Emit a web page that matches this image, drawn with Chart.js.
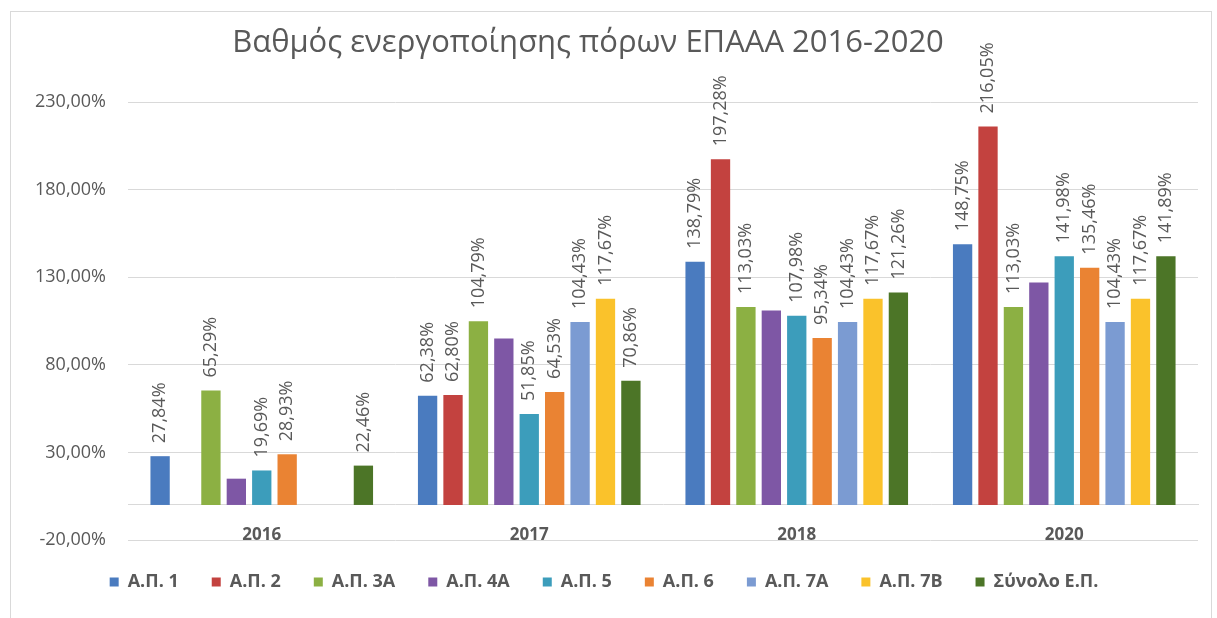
<!DOCTYPE html>
<html>
<head>
<meta charset="utf-8">
<script src="https://cdn.jsdelivr.net/npm/chart.js@4"></script>
<style>
  html, body { margin: 0; padding: 0; background: #fff; }
  #wrap { position: relative; width: 1217px; height: 618px; overflow: hidden; }
  #frame { position: absolute; left: 10px; top: 11px; width: 1202px; height: 640px; border: 1px solid #d9d9d9; box-sizing: border-box; }
  canvas { position: absolute; left: 0; top: 0; }
</style>
</head>
<body>
<div id="wrap">
  <div id="frame"></div>
  <canvas id="resourcesChart" width="1217" height="618"></canvas>
</div>
<script>
const years = ['2016', '2017', '2018', '2020'];
const ap1   = [27.84, 62.38, 138.79, 148.75];
const ap2   = [null, 62.80, 197.28, 216.05];
const ap3a  = [65.29, 104.79, 113.03, 113.03];
const ap4a  = [15.0, 95.0, 111.0, 127.0];   // no labels in the original
const ap5   = [19.69, 51.85, 107.98, 141.98];
const ap6   = [28.93, 64.53, 95.34, 135.46];
const ap7a  = [null, 104.43, 104.43, 104.43];
const ap7b  = [null, 117.67, 117.67, 117.67];
const total = [22.46, 70.86, 121.26, 141.89];

const seriesNames = ['Α.Π. 1', 'Α.Π. 2', 'Α.Π. 3Α', 'Α.Π. 4Α', 'Α.Π. 5', 'Α.Π. 6', 'Α.Π. 7Α', 'Α.Π. 7Β', 'Σύνολο Ε.Π.'];
const seriesValues = [ap1, ap2, ap3a, ap4a, ap5, ap6, ap7a, ap7b, total];
const seriesColors = ['#4a7bbf', '#c3423f', '#8cb043', '#7e57a5', '#3c9dbb', '#ea8333', '#7b9bd2', '#fac22b', '#4c7527'];
const unlabelled = ['Α.Π. 4Α'];

const titleText = 'Βαθμός ενεργοποίησης πόρων ΕΠΑΑΑ 2016-2020';
const yTicks = [-20, 30, 80, 130, 180, 230];

const FONT = '"Open Sans", "Noto Sans", sans-serif';
const GREY = '#595959';

const pct = v => v.toFixed(2).replace('.', ',') + '%';

const ResourcesChart = {
    init: function() {
        this.build();
    },

    // title + rotated value labels, drawn by hand (no datalabels plugin offline)
    labelsPlugin: {
        id: 'barLabels',
        afterDatasetsDraw(chart) {
            const ctx = chart.ctx;
            ctx.save();
            ctx.fillStyle = GREY;
            ctx.font = '31px ' + FONT;
            ctx.textAlign = 'center';
            ctx.textBaseline = 'middle';
            ctx.fillText(titleText, 588, 43);

            ctx.font = '18px ' + FONT;
            ctx.textAlign = 'left';
            chart.data.datasets.forEach((ds, i) => {
                if (unlabelled.includes(ds.label)) return;
                const meta = chart.getDatasetMeta(i);
                meta.data.forEach((bar, j) => {
                    const v = ds.data[j];
                    if (v === null || v === undefined) return;
                    ctx.save();
                    ctx.translate(bar.x, bar.y - 13);
                    ctx.rotate(-Math.PI / 2);
                    ctx.fillText(pct(v), 0, 0);
                    ctx.restore();
                });
            });
            ctx.restore();
        }
    },

    build: function() {
        const el = document.getElementById('resourcesChart');
        new Chart(el, {
            type: 'bar',
            data: {
                labels: years,
                datasets: seriesNames.map((name, i) => ({
                    label: name,
                    data: seriesValues[i],
                    backgroundColor: seriesColors[i],
                    borderWidth: 0,
                    categoryPercentage: 0.855,
                    barPercentage: 0.76
                }))
            },
            options: {
                responsive: false,
                animation: false,
                layout: { padding: { left: 10, right: 19, top: 102, bottom: 17 } },
                plugins: {
                    title: { display: false },
                    tooltip: { enabled: false },
                    legend: {
                        position: 'bottom',
                        labels: {
                            boxWidth: 9,
                            boxHeight: 9,
                            padding: 33,
                            color: GREY,
                            font: { family: FONT, size: 18, weight: 'bold' }
                        }
                    }
                },
                scales: {
                    x: {
                        position: { y: 0 },
                        grid: { display: false },
                        border: { display: true, color: '#d9d9d9' },
                        ticks: {
                            padding: 12,
                            color: GREY,
                            font: { family: FONT, size: 17, weight: 'bold' }
                        },
                        afterFit: s => { s.height = 0; }
                    },
                    y: {
                        min: -20,
                        max: 230,
                        afterBuildTicks: s => { s.ticks = yTicks.map(v => ({ value: v })); },
                        grid: { color: '#d9d9d9', drawTicks: false },
                        border: { display: false },
                        ticks: {
                            padding: 22,
                            color: GREY,
                            font: { family: FONT, size: 18 },
                            callback: v => pct(v)
                        },
                        afterFit: s => { s.width = 118; }
                    }
                }
            },
            plugins: [this.labelsPlugin]
        });
    }
};

ResourcesChart.init();
</script>
</body>
</html>
